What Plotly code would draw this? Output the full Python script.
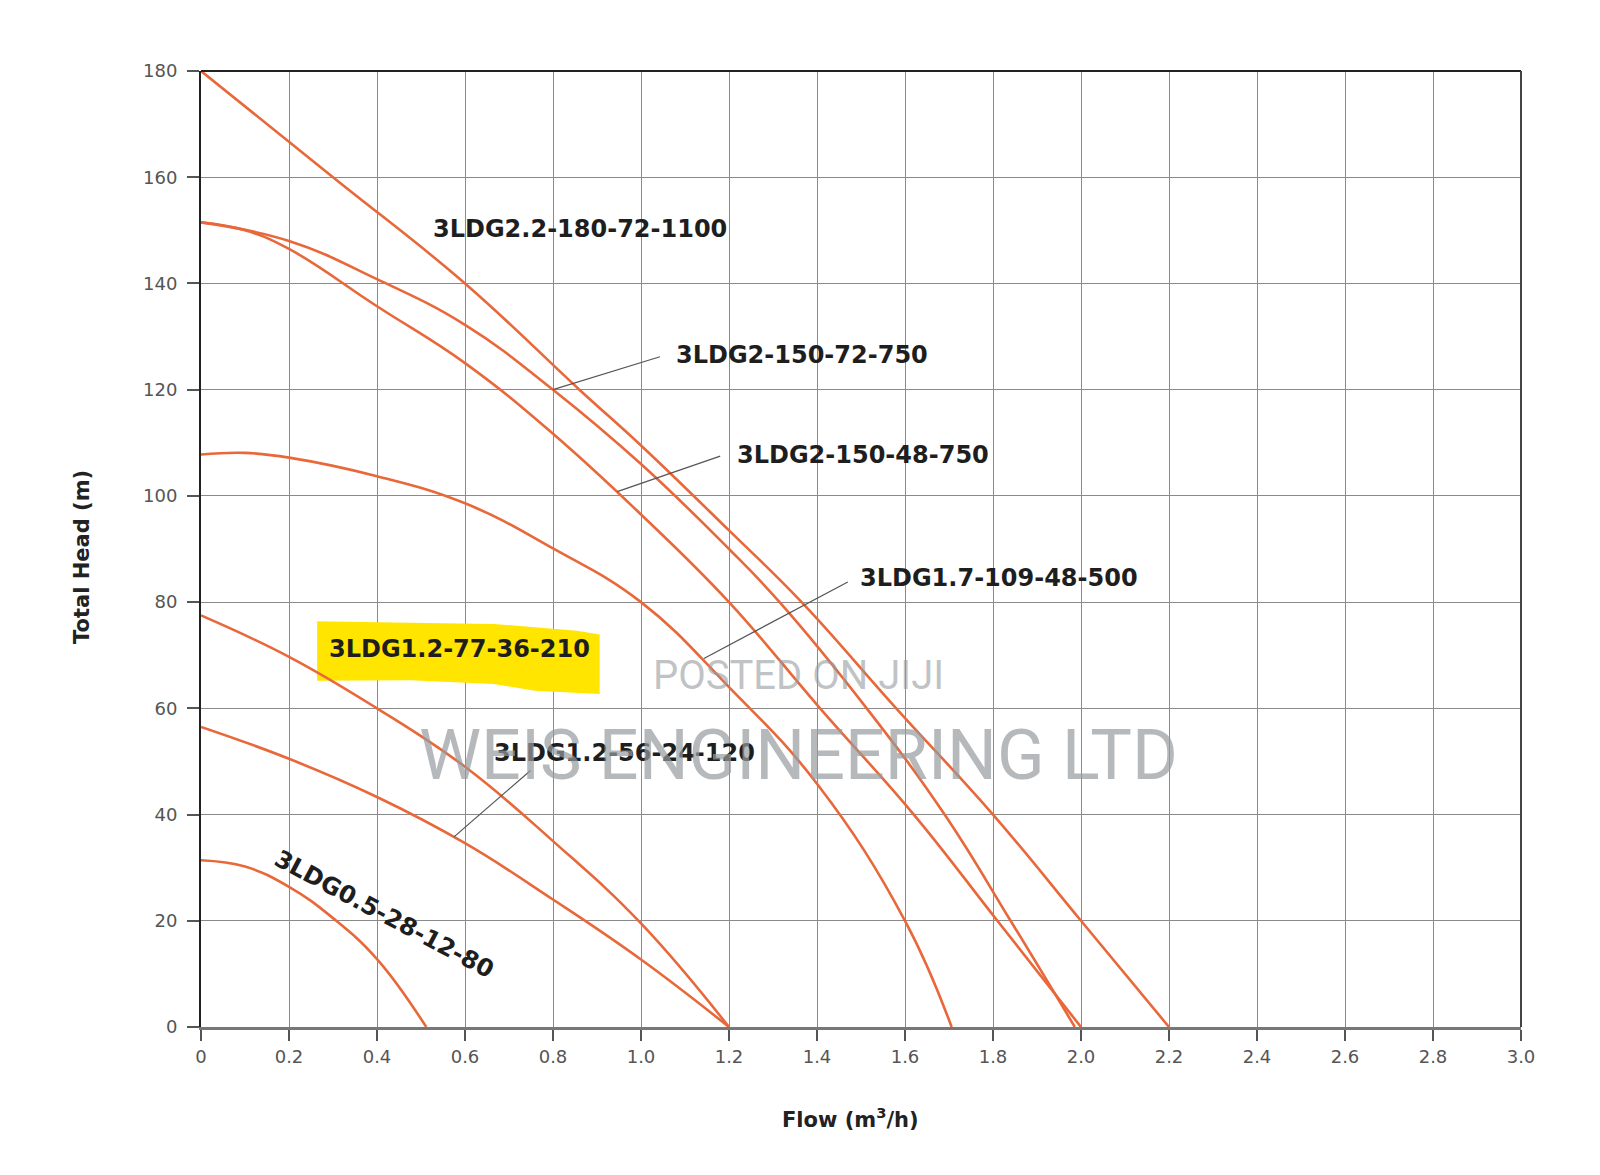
import plotly.graph_objects as go

# ---------------- data ----------------
flow_2_2_180 = [0, 0.3, 0.6, 0.86, 1.0, 1.2, 1.365, 1.58, 1.8, 2.0, 2.2]
head_2_2_180 = [180, 160, 140, 120, 109.5, 93.5, 80, 60, 40, 20, 0]

flow_2_150_72 = [0, 0.2, 0.4, 0.6, 0.8, 1.0, 1.2, 1.315, 1.513, 1.69, 1.84, 1.986]
head_2_150_72 = [151.5, 148, 140.8, 132.2, 120, 106, 90, 80, 60, 40, 20, 0]

flow_2_150_48 = [0, 0.1, 0.2, 0.4, 0.6, 0.8, 1.0, 1.2, 1.407, 1.62, 1.81, 2.0]
head_2_150_48 = [151.5, 150, 146.5, 135.7, 125, 111.7, 96.5, 80, 60, 40, 20, 0]

flow_1_7_109 = [0, 0.1, 0.2, 0.4, 0.6, 0.8, 1.0, 1.2, 1.4, 1.6, 1.706]
head_1_7_109 = [107.8, 108.1, 107.2, 103.7, 98.6, 90.1, 80, 64, 45.8, 20, 0]

flow_1_2_77 = [0, 0.2, 0.4, 0.6, 0.8, 1.0, 1.2]
head_1_2_77 = [77.5, 69.7, 60, 49, 35, 19.5, 0]

flow_1_2_56 = [0, 0.2, 0.4, 0.6, 0.8, 1.0, 1.2]
head_1_2_56 = [56.5, 50.5, 43.3, 34.6, 24, 12.7, 0]

flow_0_5_28 = [0, 0.1, 0.2, 0.3, 0.4, 0.512]
head_0_5_28 = [31.4, 30.2, 26.4, 20.5, 12.8, 0]

x_tickvals = [0, 0.2, 0.4, 0.6, 0.8, 1.0, 1.2, 1.4, 1.6, 1.8, 2.0, 2.2, 2.4, 2.6, 2.8, 3.0]
x_ticktext = ["0", "0.2", "0.4", "0.6", "0.8", "1.0", "1.2", "1.4", "1.6", "1.8",
              "2.0", "2.2", "2.4", "2.6", "2.8", "3.0"]
y_tickvals = [0, 20, 40, 60, 80, 100, 120, 140, 160, 180]

# curve labels: text, label centre (x, y), leader line (curve point -> label end) or None
labels = [
    ("3LDG2.2-180-72-1100", 0.862, 150.2, None),
    ("3LDG2-150-72-750", 1.366, 126.5, (0.80, 120.0, 1.043, 126.2)),
    ("3LDG2-150-48-750", 1.505, 107.7, (0.946, 100.8, 1.18, 107.5)),
    ("3LDG1.7-109-48-500", 1.813, 84.6, (1.143, 69.4, 1.47, 83.8)),
    ("3LDG1.2-77-36-210", 0.587, 71.2, None),
    ("3LDG1.2-56-24-120", 0.963, 51.5, (0.575, 35.8, 0.749, 48.3)),
]

CURVE = "#E8683A"
LABEL_FONT = "DejaVu Sans, Open Sans, sans-serif"
TICK_FONT = dict(family="DejaVu Sans, Open Sans, sans-serif", size=18, color="#555")

fig = go.Figure()
series = [
    (flow_2_2_180, head_2_2_180),
    (flow_2_150_72, head_2_150_72),
    (flow_2_150_48, head_2_150_48),
    (flow_1_7_109, head_1_7_109),
    (flow_1_2_77, head_1_2_77),
    (flow_1_2_56, head_1_2_56),
    (flow_0_5_28, head_0_5_28),
]
for fx, hy in series:
    fig.add_trace(go.Scatter(x=fx, y=hy, mode="lines",
                             line=dict(color=CURVE, width=2.6, shape="spline", smoothing=1.2),
                             showlegend=False, hoverinfo="skip"))

shapes = []
# yellow highlight behind the 3LDG1.2-77-36-210 label
hl_x = [0.264, 0.476, 0.665, 0.854, 0.906, 0.906, 0.759, 0.665, 0.476, 0.264]
hl_y = [76.4, 76.1, 75.9, 74.6, 73.9, 62.7, 63.3, 64.6, 65.3, 65.2]
path = "M " + " L ".join(f"{a},{b}" for a, b in zip(hl_x, hl_y)) + " Z"
shapes.append(dict(type="path", path=path, xref="x", yref="y",
                   fillcolor="#FFE500", line=dict(width=0), layer="between"))

annotations = []
for text, lx, ly, leader in labels:
    annotations.append(dict(x=lx, y=ly, xref="x", yref="y", text=f"<b>{text}</b>",
                            showarrow=False, xanchor="center", yanchor="middle",
                            font=dict(family=LABEL_FONT, size=24, color="#1e1e1e")))
    if leader:
        x0, y0, x1, y1 = leader
        shapes.append(dict(type="line", x0=x0, y0=y0, x1=x1, y1=y1, xref="x", yref="y",
                           line=dict(color="#555555", width=1.2), layer="above"))

annotations.append(dict(x=0.415, y=21.2, xref="x", yref="y", text="<b>3LDG0.5-28-12-80</b>",
                        showarrow=False, textangle=28, xanchor="center", yanchor="middle",
                        font=dict(family=LABEL_FONT, size=24, color="#1e1e1e")))

# watermarks
annotations.append(dict(x=1.359, y=66.2, xref="x", yref="y", text="POSTED ON JIJI",
                        showarrow=False, xanchor="center", yanchor="middle",
                        font=dict(family="Liberation Sans Narrow, Roboto, sans-serif", size=40,
                                  color="rgba(150,155,160,0.6)")))
annotations.append(dict(x=1.359, y=51.2, xref="x", yref="y", text="WEIS ENGINEERING LTD",
                        showarrow=False, xanchor="center", yanchor="middle",
                        font=dict(family="Liberation Sans Narrow, Roboto, sans-serif", size=70,
                                  color="rgba(150,155,160,0.7)")))

# axis titles
annotations.append(dict(x=-0.0902, y=0.4916, xref="paper", yref="paper",
                        xanchor="center", yanchor="middle",
                        text="<b>Total Head (m)</b>", textangle=-90, showarrow=False,
                        font=dict(family=LABEL_FONT, size=21, color="#222")))
annotations.append(dict(x=0.4924, y=-0.0952, xref="paper", yref="paper",
                        xanchor="center", yanchor="middle",
                        text="<b>Flow (m<sup>3</sup>/h)</b>", showarrow=False,
                        font=dict(family=LABEL_FONT, size=21, color="#222")))

fig.update_layout(
    width=1600, height=1175,
    margin=dict(l=201, r=79, t=71, b=148),
    paper_bgcolor="white", plot_bgcolor="white",
    shapes=shapes, annotations=annotations,
    font=dict(family="Open Sans, sans-serif"),
)
fig.update_xaxes(range=[0, 3.0], tickvals=x_tickvals, ticktext=x_ticktext,
                 showgrid=True, gridcolor="#8a8a8a", gridwidth=1.3,
                 showline=True, linecolor="#777777", linewidth=3, mirror=False,
                 ticks="outside", ticklen=11, tickcolor="#555", tickwidth=1.5,
                 tickfont=TICK_FONT, zeroline=False)
fig.update_yaxes(range=[0, 180], tickvals=y_tickvals,
                 showgrid=True, gridcolor="#8a8a8a", gridwidth=1.3,
                 showline=True, linecolor="#222222", linewidth=2, mirror=False,
                 ticks="outside", ticklen=12, tickcolor="#555", tickwidth=1.5,
                 ticklabelstandoff=6,
                 tickfont=TICK_FONT, zeroline=False)
# top and right borders
fig.add_shape(type="line", xref="paper", yref="paper", x0=0, x1=1, y0=1, y1=1,
              line=dict(color="#222", width=2))
fig.add_shape(type="line", xref="paper", yref="paper", x0=1, x1=1, y0=0, y1=1,
              line=dict(color="#444", width=2))

fig.write_html("out.html")
